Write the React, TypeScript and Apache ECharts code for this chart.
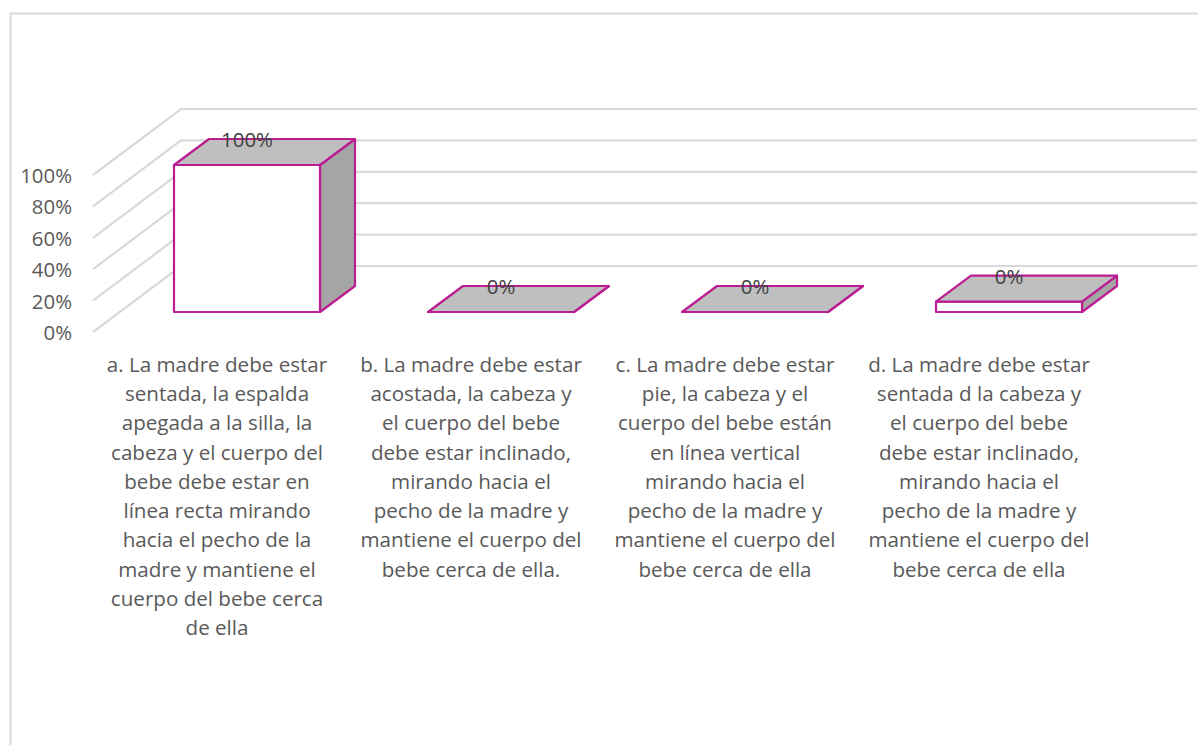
import React, { useEffect, useRef } from "react";
import * as echarts from "echarts";

const categories = [
  "a. La madre debe estar\nsentada, la espalda\napegada a la silla, la\ncabeza y el cuerpo del\nbebe debe estar en\nlínea recta mirando\nhacia el pecho de la\nmadre y mantiene el\ncuerpo del bebe cerca\nde ella",
  "b. La madre debe estar\nacostada, la cabeza y\nel cuerpo del bebe\ndebe estar inclinado,\nmirando hacia el\npecho de la madre y\nmantiene el cuerpo del\nbebe cerca de ella.",
  "c. La madre debe estar\npie, la cabeza y el\ncuerpo del bebe están\nen línea vertical\nmirando hacia el\npecho de la madre y\nmantiene el cuerpo del\nbebe cerca de ella",
  "d. La madre debe estar\nsentada d la cabeza y\nel cuerpo del bebe\ndebe estar inclinado,\nmirando hacia el\npecho de la madre y\nmantiene el cuerpo del\nbebe cerca de ella",
];
const barValues = [100, 0, 0, 7];
const dataLabels = ["100%", "0%", "0%", "0%"];
const yTicks = [0, 20, 40, 60, 80, 100];

const FONT = "'Open Sans', sans-serif";
const BORDER = "#BC1C92";
const GRID_COLOR = "#D9D9D9";

export default function App() {
  const ref = useRef<HTMLDivElement>(null);
  useEffect(() => {
    const chart = echarts.init(ref.current!, null, { renderer: "svg" });
    chart.setOption({
      animation: false,
      backgroundColor: "#fff",
      grid: [
        { left: 93, top: 175, width: 1104, height: 157 },
        { left: 90, top: 165, width: 1016, height: 147 },
      ],
      xAxis: [
        { type: "value", gridIndex: 0, min: 0, max: 1, show: false },
        {
          type: "category",
          gridIndex: 1,
          data: categories,
          axisLine: { show: false },
          axisTick: { show: false },
          axisLabel: {
            interval: 0,
            margin: 37,
            fontFamily: FONT,
            fontSize: 20.6,
            lineHeight: 29.3,
            color: "#595959",
            align: "center",
            verticalAlign: "top",
          },
        },
      ],
      yAxis: [
        {
          type: "value",
          gridIndex: 0,
          min: 0,
          max: 100,
          interval: 20,
          axisLine: { show: false },
          axisTick: { show: false },
          splitLine: { show: false },
          axisLabel: {
            margin: 21,
            formatter: "{value}%",
            fontFamily: FONT,
            fontSize: 20.4,
            color: "#595959",
          },
        },
        { type: "value", gridIndex: 1, min: 0, max: 100, show: false, splitLine: { show: false } },
      ],
      series: [
        {
          type: "custom",
          xAxisIndex: 0,
          yAxisIndex: 0,
          silent: true,
          clip: false,
          z: 1,
          data: yTicks.map((t) => [0, t]),
          encode: { x: 0, y: 1 },
          renderItem: (_p: any, api: any) => {
            const t = api.value(1);
            const a = api.coord([0, t]);
            const b = api.coord([1, t]);
            return {
              type: "polyline",
              shape: {
                points: [
                  [a[0], a[1]],
                  [a[0] + 88, a[1] - 66],
                  [b[0], a[1] - 66],
                ],
              },
              style: { fill: "none", stroke: GRID_COLOR, lineWidth: 2.2 },
            };
          },
        },
        {
          type: "custom",
          xAxisIndex: 1,
          yAxisIndex: 1,
          silent: true,
          clip: false,
          z: 2,
          data: barValues.map((v, i) => [i, v]),
          encode: { x: 0, y: 1 },
          renderItem: (p: any, api: any) => {
            const i = api.value(0);
            const top = api.coord([i, api.value(1)]);
            const base = api.coord([i, 0]);
            const band = api.size([1, 0])[0];
            const cx = top[0] + 30;
            const hw = band * 0.2874;
            const l = cx - hw;
            const r = cx + hw;
            const dx = 35;
            const dy = -26;
            const y1 = top[1];
            const y0 = base[1];
            const line = { stroke: BORDER, lineWidth: 2.2, lineJoin: "round" };
            return {
              type: "group",
              children: [
                {
                  type: "polygon",
                  shape: { points: [[r, y0], [r + dx, y0 + dy], [r + dx, y1 + dy], [r, y1]] },
                  style: { fill: "#A5A5A5", ...line },
                },
                {
                  type: "rect",
                  shape: { x: l, y: y1, width: r - l, height: y0 - y1 },
                  style: { fill: "#FFFFFF", ...line },
                },
                {
                  type: "polygon",
                  shape: { points: [[l, y1], [l + dx, y1 + dy], [r + dx, y1 + dy], [r, y1]] },
                  style: { fill: "#BFBFBF", ...line },
                },
                {
                  type: "text",
                  style: {
                    x: cx,
                    y: y1 - 26,
                    text: dataLabels[p.dataIndex],
                    align: "center",
                    verticalAlign: "middle",
                    fontFamily: FONT,
                    fontSize: 20.4,
                    fill: "#404040",
                  },
                },
              ],
            };
          },
        },
      ],
      graphic: [
        {
          type: "polyline",
          silent: true,
          shape: { points: [[10.5, 745], [10.5, 13.5], [1198, 13.5]] },
          style: { fill: "none", stroke: GRID_COLOR, lineWidth: 2 },
        },
      ],
    });
    return () => chart.dispose();
  }, []);
  return <div ref={ref} style={{ position: "fixed", left: 0, top: 0, width: 1198, height: 745 }} />;
}
